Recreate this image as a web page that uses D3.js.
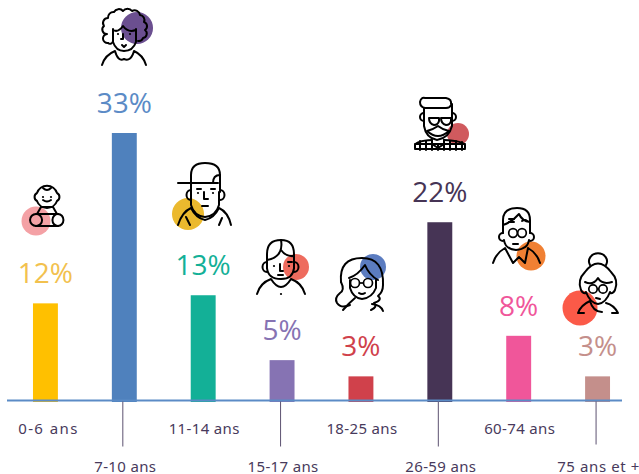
<!DOCTYPE html>
<html><head><meta charset="utf-8">
<script src="https://cdn.jsdelivr.net/npm/d3@7"></script>
<style>html,body{margin:0;padding:0;background:#fff}svg{display:block}</style>
</head><body><svg id="c" width="639" height="474"></svg>
<script>
const categories = ["0-6 ans","7-10 ans","11-14 ans","15-17 ans","18-25 ans","26-59 ans","60-74 ans","75 ans et +"];
const values = [12,33,13,5,3,22,8,3];
const barColors = ["#ffc000","#4f81bd","#13b097","#8673b3","#d0414b","#463455","#f0569a","#c48f8b"];
const labelColors = ["#f2c14e","#5b8bc6","#13b097","#8673b3","#d0414b","#463455","#f0569a","#c48f8b"];

const svg = d3.select("#c");
const x = d3.scaleBand().domain(categories).range([6,637]).paddingInner(0.684).paddingOuter(0.342);
const y = d3.scaleLinear().domain([0,33]).range([400.7,133]);

const ICONS = svg.append("g");

svg.append("g").selectAll("rect").data(values).join("rect")
  .attr("x",(d,i)=>x(categories[i])).attr("width",x.bandwidth())
  .attr("y",d=>y(d)).attr("height",d=>y(0)-y(d)+1.3)
  .attr("fill",(d,i)=>barColors[i]);

svg.append("g").selectAll("text").data(values).join("text")
  .attr("x",(d,i)=>x(categories[i])+x.bandwidth()/2)
  .attr("y",d=>y(d)-20)
  .attr("text-anchor","middle")
  .attr("font-family","'Open Sans',sans-serif").attr("font-size",28)
  .attr("fill",(d,i)=>labelColors[i])
  .text(d=>d+"%");

const axis = svg.append("g").attr("transform","translate(0,400.5)")
  .call(d3.axisBottom(x).tickSize(0).tickPadding(0));
axis.select(".domain").remove();
axis.append("line").attr("x1",7).attr("x2",622).attr("stroke","#5b8bc6").attr("stroke-width",2);
axis.selectAll(".tick").each(function(d,i){
  const t = d3.select(this), low = i%2===1;
  if(low) t.select("line").attr("y1",0).attr("y2",i===7?44:46).attr("x1",-1.5).attr("x2",-1.5).attr("stroke","#5c5270").attr("stroke-width",1);
  else t.select("line").remove();
  t.select("text").attr("y",low?71:33).attr("dy",0).attr("dx",i===0?3:1)
   .attr("font-family","'Noto Sans',sans-serif").attr("font-size",15).attr("fill","#483a5c")
   .attr("letter-spacing",i===0?1.4:(i===7?0.6:0.35));
});

/* decorative portraits */
function icon(circle, color, paths, dots){
  const g = ICONS.append("g");
  g.append("circle").attr("cx",circle[0]).attr("cy",circle[1]).attr("r",circle[2]).attr("fill",color);
  g.selectAll("path").data(paths).join("path").attr("d",d=>d)
    .attr("fill","none").attr("stroke","#000").attr("stroke-width",2)
    .attr("stroke-linecap","round").attr("stroke-linejoin","round");
  g.selectAll("circle.d").data(dots||[]).join("circle").attr("class","d")
    .attr("cx",d=>d[0]).attr("cy",d=>d[1]).attr("r",1.1).attr("fill","#000");
}
function specs(a,b,cy,r){
  ICONS.append("g").attr("fill","none").attr("stroke","#000").attr("stroke-width",1.7)
   .call(g=>{g.append("circle").attr("cx",a).attr("cy",cy).attr("r",r);
             g.append("circle").attr("cx",b).attr("cy",cy).attr("r",r);
             g.append("path").attr("d",`M${a+r},${cy} H${b-r}`);});
}
// baby
icon([36,221,14.5],"#f4a1a5",[
 "M37,193 A10.5,10.5 0 0 1 57,193 A4.5,4.5 0 0 1 57,201 A10.5,10 0 0 1 37,201 A4.5,4.5 0 0 1 37,193 Z",
 "M43,188 Q47,192 51,188","M43,200 Q47,203 51,200",
 "M41,207 L37,214 M53,207 L57,214 M41,207 H53",
 "M36,214 H58 M36,226 H58",
 "M36,214 a6,6 0 1 0 0.1,12 a6,6 0 1 0 -0.1,-12 M58,214 a5.5,6 0 1 1 -0.1,12 a5.5,6 0 1 1 0.1,-12"
],[[43,197],[51,197]]);
// curly
icon([137,28,16],"#6b4f90",[
 "M108,43 a4.5,4.5 0 0 1 -1,-9 a4.5,4.5 0 0 1 -3,-8 a5,5 0 0 1 4,-8 a5.5,5.5 0 0 1 6,-6 a5.5,5.5 0 0 1 9,-1 a5.5,5.5 0 0 1 9,0 a5.5,5.5 0 0 1 8,4 a5,5 0 0 1 4,7 a4.5,4.5 0 0 1 1,8 a4.5,4.5 0 0 1 -2,8 a4.5,4.5 0 0 1 -5,3",
 "M113,29 V42 Q116,51 124,51 Q133,51 136,42 V29",
 "M113,30 Q118,33 123,26 Q128,33 136,30 M108,43 a3,3 0 0 0 5,-2",
 "M123,34 V39 H121 M122,45 L124,47 L126,45",
 "M102,65 Q105,55 115,51 Q118,62 124,59 Q131,62 134,51 Q143,55 146,65"
],[[118,34],[130,34]]);
// cap
icon([188,214,16],"#ebb92e",[
 "M178,183 H218","M191,183 V175 Q191,163 205,163 Q220,163 220,175 V192",
 "M220,175 Q213,175 213,183",
 "M191,183 V205 Q194,216 205,217 Q216,216 219,205 V192",
 "M191,190 a4.5,5 0 0 0 0,10 M220,190 a4.5,5 0 0 1 0,10",
 "M204,192 V199 H208","M197,189 H201","M211,189 H215","M202,206 H208",
 "M178,225 Q182,212 191,208 Q196,218 205,220 Q214,218 219,208 Q228,212 231,225",
 "M190,225 L186,217 M219,225 L222,218"
],[[198,193],[213,193]]);
// short hair
icon([296,267,13],"#ee6b5e",[
 "M267,268 V254 Q267,240 281,240 Q294,240 294,254 V268",
 "M267,260 Q284,257 281,240 M281,250 Q286,257 294,256",
 "M267,268 Q268,279 281,279 Q293,279 294,268",
 "M267,262 a4.5,5 0 0 0 0,10 M294,262 a4.5,5 0 0 1 0,10",
 "M280,264 V271 H283","M288,262 H292","M278,275 H283",
 "M257,294 Q260,283 271,279 Q276,287 281,287 Q286,287 291,279 Q302,283 305,294"
],[[274,266],[289,266],[281,294]]);
// woman with glasses
icon([373,267,13],"#5b7cc0",[
 "M341,282 Q339,258 362,258 Q384,258 383,285 Q383,292 378,296 Q383,300 374,303 Q378,307 371,310",
 "M341,282 Q345,290 340,293 Q334,298 337,303 Q341,309 350,305",
 "M349,278 Q358,275 365,265 Q369,275 378,280",
 "M350,280 V288 Q353,298 362,299 Q372,298 376,288 V280",
 "M359,293 Q362,295 365,293",
 "M343,310 Q349,303 355,298 M372,304 Q381,305 383,311"
]);
specs(355,368,283,4.5);
// hipster
icon([458,134,11],"#d05a5e",[
 "M425,98 H446 Q452,99 451,105 Q450,108 446,108 H425 Q420,107 420,102 Q421,97 425,98 Z",
 "M424,108 V126 Q426,138 437,140 Q449,138 452,126 V104",
 "M424,113 a4,4 0 0 0 0,8 M452,113 a4,4 0 0 1 0,8",
 "M429,118 h10 v3 q-1,4 -5,4 q-5,-1 -5,-7 M441,118 h10 v3 q-1,4 -5,4 q-5,-1 -5,-7",
 "M427,131 Q434,129 438,126 Q443,130 449,131 Q438,141 427,131",
 "M432,140 V144 L438,148 L444,144 V140",
 "M415,148 V145 Q416,141 432,140 M444,140 Q463,141 465,145 V148",
 "M415,144 H465 M415,149 H465 M420,141 V150 M426,141 V150 M432,141 V150 M438,145 V150 M444,141 V150 M450,141 V150 M456,141 V150 M462,142 V150"
]);
// grandpa
icon([531,256,14.5],"#f08033",[
 "M503,233 V220 Q503,208 517,208 Q530,208 530,220 V233",
 "M503,225 Q512,222 519,214 Q522,221 530,222",
 "M503,233 a4,4 0 0 0 0,8 M530,233 a4,4 0 0 1 0,8",
 "M504,240 Q505,249 516,250 Q528,249 529,240",
 "M513,244 H518",
 "M493,263 Q496,253 505,248 L513,263 L519,257 M528,248 Q537,253 540,263 M519,257 L525,263 L528,248",
 "M509,219 H514 M509,222 H514 M522,221 Q525,219 527,221"
]);
specs(513,522,233,4.3);
// granny
icon([580,308,17.5],"#fb5a48",[
 "M590,265 a9,8 0 1 1 16,0",
 "M585,272 Q598,255 611,272 Q619,280 615,290 Q613,294 610,293 M585,272 Q577,280 581,290 Q583,294 586,293",
 "M585,282 Q593,286 598,278 Q602,285 612,282",
 "M586,292 Q590,303 598,304 Q606,303 610,292",
 "M596,298 L600,299",
 "M578,313 Q581,305 590,301 Q593,312 602,312 M606,303 Q614,305 618,313 M578,313 H584 M612,313 H618"
]);
specs(593,603,289,4.2);
</script></body></html>
